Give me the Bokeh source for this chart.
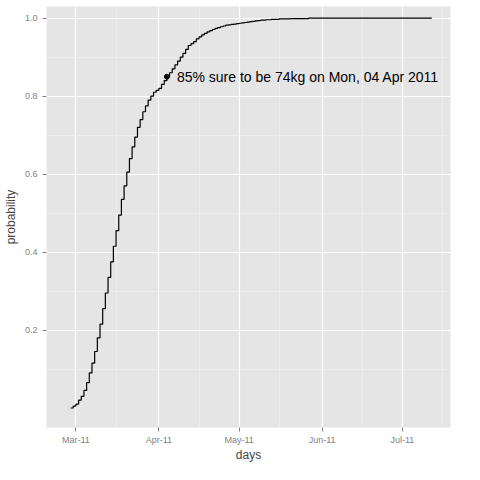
import numpy as np, pandas as pd
from bokeh.plotting import figure
from bokeh.models import DatetimeTickFormatter, FixedTicker, Range1d, NumeralTickFormatter
from bokeh.core.properties import value
from bokeh.embed import file_html
from bokeh.resources import INLINE

start_day = "2011-02-27"
daily_prob = [0.0,0.005,0.01,0.02,0.03,0.045,0.065,0.09,0.115,0.145,0.18,0.215,0.255,0.295,0.335,
 0.375,0.415,0.455,0.495,0.535,0.57,0.605,0.64,0.67,0.695,0.72,0.74,0.76,0.775,0.79,0.80,0.81,
 0.815,0.82,0.83,0.84,0.85,0.86,0.87,0.88,0.89,0.90,0.91,0.92,0.93,0.935,0.94,0.947,0.952,0.957,
 0.961,0.965,0.968,0.971,0.974,0.976,0.978,0.980,0.982,0.983,0.984,0.985,0.986,0.987,0.988,0.989,
 0.990,0.991,0.992,0.993,0.994,0.995,0.995,0.996,0.996,0.997,0.997,0.997,0.998,0.998,0.998,0.998,
 0.999,0.999,0.999,0.999,0.999,0.999,0.999,1.0,1.0,1.0,1.0,1.0,1.0,1.0,1.0,1.0,1.0,1.0,1.0,1.0,
 1.0,1.0,1.0,1.0,1.0,1.0,1.0,1.0,1.0,1.0,1.0,1.0,1.0,1.0,1.0,1.0,1.0,1.0,1.0,1.0,1.0,1.0,1.0,
 1.0,1.0,1.0,1.0,1.0,1.0,1.0,1.0,1.0,1.0,1.0]
mark_day = "2011-04-04"
mark_prob = 0.85
label = "85% sure to be 74kg on Mon, 04 Apr 2011"
x_ticks = ["2011-03-01","2011-04-01","2011-05-01","2011-06-01","2011-07-01"]
y_ticks = [0.2,0.4,0.6,0.8,1.0]

days = pd.date_range(start_day, periods=len(daily_prob), freq="D")
ms = lambda d: pd.Timestamp(d).value // 10**6

p = figure(width=464, height=464, x_axis_type="datetime", output_backend="svg",
           toolbar_location=None, min_border_left=8, min_border_right=14,
           min_border_top=6, min_border_bottom=0)
p.x_range = Range1d(ms("2011-02-18"), ms("2011-07-19"))
p.y_range = Range1d(-0.05, 1.03)
p.background_fill_color = "#E5E5E5"
p.border_fill_color = "white"
p.outline_line_color = None
p.step(days, daily_prob, mode="after", line_color="black", line_width=1.2)
p.scatter([pd.Timestamp(mark_day)], [mark_prob], size=5, color="black")
p.text([pd.Timestamp(mark_day)], [mark_prob], text=[label], x_offset=10,
       text_baseline="middle", text_font_size="14px", text_color="black",
       text_font=value("Liberation Sans"))

p.xaxis.ticker = FixedTicker(ticks=[ms(t) for t in x_ticks],
    minor_ticks=[ms(t) for t in ["2011-02-15","2011-03-16","2011-04-16","2011-05-16","2011-06-16","2011-07-16"]])
p.xaxis.formatter = DatetimeTickFormatter(months="%b-%y", days="%b-%y")
p.yaxis.ticker = FixedTicker(ticks=y_ticks, minor_ticks=[0.1,0.3,0.5,0.7,0.9])
p.yaxis.formatter = NumeralTickFormatter(format="0.0")
for ax in (p.xaxis, p.yaxis):
    ax.axis_line_color = None
    ax.major_tick_line_color = "#7F7F7F"
    ax.minor_tick_line_color = None
    ax.major_tick_out = 4
    ax.major_tick_in = 0
    ax.major_label_text_color = "#7F7F7F"
    ax.major_label_text_font_size = "9px"
    ax.major_label_text_font = "Liberation Sans"
    ax.axis_label_text_font = "Liberation Sans"
    ax.axis_label_text_font_style = "normal"
    ax.axis_label_text_font_size = "12px"
p.xaxis.axis_label = "days"
p.yaxis.axis_label = "probability"
p.xaxis.axis_label_standoff = 0
p.xaxis.major_label_standoff = 3
p.yaxis.axis_label_standoff = 4
for g in (p.xgrid, p.ygrid):
    g.grid_line_color = "white"
    g.grid_line_width = 1.2
    g.minor_grid_line_color = "#F2F2F2"
    g.minor_grid_line_width = 0.6

open("out.html", "w").write(file_html(p, INLINE))
